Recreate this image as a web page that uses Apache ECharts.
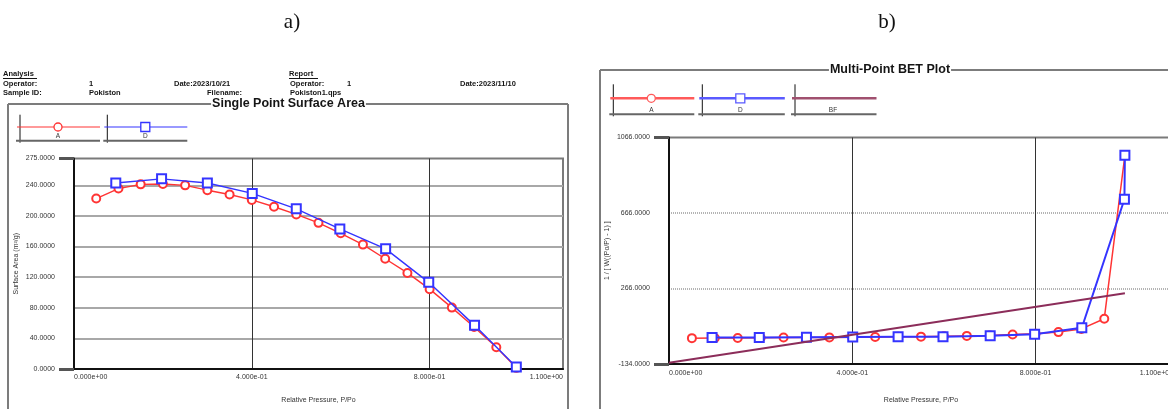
<!DOCTYPE html>
<html>
<head>
<meta charset="utf-8">
<script src="https://cdn.jsdelivr.net/npm/echarts/dist/echarts.min.js"></script>
<style>
  html, body { margin: 0; padding: 0; background: #fff; overflow: hidden; }
  #wrap { position: relative; width: 1168px; height: 409px; overflow: hidden; }
  #chart { position: absolute; left: 0; top: 0; width: 1190px; height: 409px; filter: blur(0.7px); }
  .tag { position: absolute; top: 9px; font: 21px "Liberation Serif", serif; color: #111; transform: translateX(-50%); }
</style>
</head>
<body>
<div id="wrap">
  <div id="chart"></div>
  <div class="tag" style="left:292px">a)</div>
  <div class="tag" style="left:887px">b)</div>
</div>
<script>
// Relative pressure P/Po of the sample points
const pressureA = [0.05, 0.10, 0.15, 0.20, 0.25, 0.30, 0.35, 0.40, 0.45, 0.50,
                   0.55, 0.60, 0.65, 0.70, 0.75, 0.80, 0.85, 0.90, 0.95, 0.995];
const pressureD = [0.094, 0.197, 0.300, 0.401, 0.500, 0.598, 0.701, 0.798, 0.901, 0.995];
const pressureDBet = [0.094, 0.197, 0.300, 0.401, 0.500, 0.598, 0.701, 0.798, 0.901, 0.994, 0.995];

// Single point surface area (m²/g)
const surfaceA = [222.7, 235.7, 241.2, 241.7, 239.9, 233.6, 228.0, 220.9, 212.0, 202.0,
                  190.9, 177.3, 162.5, 144.0, 125.5, 104.3, 80.2, 54.9, 28.3, 1.5];
const surfaceD = [243.0, 248.4, 243.0, 229.4, 209.2, 183.0, 157.0, 113.2, 57.0, 2.5];

// Multi-point BET transform 1/[W((Po/P)-1)]
const betA = [3, 4, 4, 5, 6, 6, 7, 8, 9, 10, 11, 13, 15, 17, 22, 26, 35, 52, 106, 972];
const betD = [6, 7, 8, 9, 10, 11, 16, 24, 58, 739, 972];

// Best-fit line end points
const bfPressure = [0, 0.995];
const bfValue = [-127, 241];

// Axis ranges and tick steps
const xRange = { min: 0, max: 1.1, step: 0.4 };
const surfaceRange = { min: 0, max: 275, step: 40 };
const betRange = { min: -134, max: 1066, step: 400 };

const RED = '#ff3434';
const BLUE = '#3434ff';
const BF = '#8c2d5a';
const FONT = '"Liberation Sans", Arial, sans-serif';

const zip = (xs, ys) => xs.map((x, i) => [x, ys[i]]);

function sci(v) {
  const [m, e] = Number(v).toExponential(3).split('e');
  const n = parseInt(e, 10);
  return m + 'e' + (n < 0 ? '-' : '+') + String(Math.abs(n)).padStart(2, '0');
}

function xAxisFor(gi, nameGap, margin) {
  return {
    gridIndex: gi, type: 'value', min: xRange.min, max: xRange.max, interval: xRange.step,
    name: 'Relative Pressure, P/Po', nameLocation: 'middle', nameGap: nameGap,
    nameTextStyle: { fontSize: 7, color: '#333', fontFamily: FONT },
    axisLine: { onZero: false, lineStyle: { color: '#111', width: 2 } },
    axisTick: { show: false },
    axisLabel: { formatter: sci, fontSize: 7, color: '#333', fontFamily: FONT, margin: margin,
                 showMinLabel: true, showMaxLabel: true, alignMinLabel: 'left', alignMaxLabel: 'right' },
    splitLine: { show: true, showMinLine: false, showMaxLine: false, lineStyle: { color: '#333', width: 1 } }
  };
}

function yAxisFor(gi, range, name, nameGap, dashed) {
  return {
    gridIndex: gi, type: 'value', position: 'left', min: range.min, max: range.max, interval: range.step,
    name: name, nameLocation: 'middle', nameGap: nameGap,
    nameTextStyle: { fontSize: 7, color: '#333', fontFamily: FONT },
    axisLine: { onZero: false, lineStyle: { color: '#111', width: 2 } },
    axisTick: { show: false },
    axisLabel: { formatter: v => Number(v).toFixed(4), fontSize: 7, color: '#333', fontFamily: FONT, margin: 19,
                 showMinLabel: true, showMaxLabel: true },
    splitLine: { show: true, showMinLine: false, showMaxLine: false,
                 lineStyle: { color: dashed ? '#b4b4b4' : '#a8a8a8', width: 2, type: dashed ? [1, 1] : 'solid' } }
  };
}

// Companion axis that only draws the outward stubs at the bottom and top edges
function edgeTicks(gi, range) {
  return {
    gridIndex: gi, type: 'value', position: 'left', min: range.min, max: range.max,
    interval: range.max - range.min,
    axisLine: { show: false }, axisLabel: { show: false }, splitLine: { show: false },
    axisTick: { show: true, length: 15, lineStyle: { color: '#555', width: 3 } }
  };
}

// ---- decorations: frames, headings, legend boxes ----
const G = [];
const ln = (x1, y1, x2, y2, stroke, lw) => G.push({ type: 'line', silent: true, z: 20,
  shape: { x1, y1, x2, y2 }, style: { stroke, lineWidth: lw } });
const tx = (text, x, y, font, extra) => G.push({ type: 'text', silent: true, z: 30,
  style: Object.assign({ text, x, y, font, fill: '#151515', align: 'left', verticalAlign: 'middle' }, extra || {}) });

// panel frames
ln(8, 104, 568, 104, '#7c7c7c', 2);
ln(8, 104, 8, 412, '#7c7c7c', 2);
ln(568, 104, 568, 412, '#7c7c7c', 2);
ln(600, 70, 1190, 70, '#7c7c7c', 2);
ln(600, 70, 600, 412, '#7c7c7c', 2);

// panel titles
tx('Single Point Surface Area', 288.5, 103.5, 'bold 12.5px ' + FONT,
   { align: 'center', backgroundColor: '#fff', padding: [0, 1] });
tx('Multi-Point BET Plot', 890, 69.5, 'bold 12.5px ' + FONT,
   { align: 'center', backgroundColor: '#fff', padding: [0, 1] });

// report heading
const HF = 'bold 7.5px ' + FONT;
tx('Analysis', 3, 74.3, HF); ln(3, 78.5, 37, 78.5, '#151515', 1);
tx('Operator:', 3, 83.7, HF);
tx('1', 89, 83.7, HF);
tx('Date:2023/10/21', 174, 83.7, HF);
tx('Sample ID:', 3, 92.7, HF);
tx('Pokiston', 89, 92.7, HF);
tx('Filename:', 242, 92.7, HF, { align: 'right' });
tx('Report', 289, 74.3, HF); ln(289, 78.5, 318, 78.5, '#151515', 1);
tx('Operator:', 290, 83.7, HF);
tx('1', 347, 83.7, HF);
tx('Pokiston1.qps', 290, 92.7, HF);
tx('Date:2023/11/10', 460, 83.7, HF);

// legend boxes
function legendItem(x, yTop, yLine, yBottom, w, label, color, marker, lw) {
  ln(x, yTop, x, yBottom + 2, '#111', 1);
  ln(x - 4, yBottom, x + w, yBottom, '#666', 2);
  ln(x - 3, yLine, x + w, yLine, color, lw);
  const mx = x + 38;
  if (marker === 'circle') {
    G.push({ type: 'circle', silent: true, z: 25, shape: { cx: mx, cy: yLine, r: 4 },
             style: { fill: '#fff', stroke: color, lineWidth: 1.3 } });
  } else if (marker === 'rect') {
    G.push({ type: 'rect', silent: true, z: 25, shape: { x: mx - 4.5, y: yLine - 4.5, width: 9, height: 9 },
             style: { fill: '#fff', stroke: color, lineWidth: 1.3 } });
  }
  tx(label, mx, yBottom - 4, '6.5px ' + FONT, { align: 'center', fill: '#333' });
}
legendItem(20, 114.7, 127, 140.7, 80, 'A', RED, 'circle', 1.2);
legendItem(107.3, 114.7, 127, 140.7, 80, 'D', BLUE, 'rect', 1.2);
legendItem(613.3, 84.3, 98.3, 114.3, 81, 'A', '#ff5a5a', 'circle', 2.5);
legendItem(702.3, 84.3, 98.3, 114.3, 82.5, 'D', '#5a5aff', 'rect', 2.5);
legendItem(795, 84.3, 98.3, 114.3, 81.5, 'BF', '#a0506f', null, 2.5);

const chart = echarts.init(document.getElementById('chart'), null, { renderer: 'canvas' });
chart.setOption({
  animation: false,
  backgroundColor: '#fff',
  grid: [
    { left: 74, top: 158.5, width: 489, height: 217, show: true, borderColor: '#7a7a7a', borderWidth: 2 },
    { left: 669, top: 137.5, width: 504, height: 229.5, show: true, borderColor: '#7a7a7a', borderWidth: 2 }
  ],
  xAxis: [xAxisFor(0, 28, 5), xAxisFor(1, 33, 6)],
  yAxis: [
    yAxisFor(0, surfaceRange, 'Surface Area (m²/g)', 54, false),
    edgeTicks(0, surfaceRange),
    yAxisFor(1, betRange, '1 / [ W((Po/P) - 1) ]', 58, true),
    edgeTicks(1, betRange)
  ],
  graphic: G,
  series: [
    { name: 'A', type: 'line', xAxisIndex: 0, yAxisIndex: 0, data: zip(pressureA, surfaceA),
      symbol: 'emptyCircle', symbolSize: 8, lineStyle: { color: RED, width: 1.4 },
      itemStyle: { color: RED, borderColor: RED, borderWidth: 1.3 }, z: 3 },
    { name: 'D', type: 'line', xAxisIndex: 0, yAxisIndex: 0, data: zip(pressureD, surfaceD),
      symbol: 'emptyRect', symbolSize: 9, lineStyle: { color: BLUE, width: 1.4 },
      itemStyle: { color: BLUE, borderColor: BLUE, borderWidth: 1.4 }, z: 4 },
    { name: 'A', type: 'line', xAxisIndex: 1, yAxisIndex: 2, data: zip(pressureA, betA),
      symbol: 'emptyCircle', symbolSize: 8, lineStyle: { color: RED, width: 1.5 },
      itemStyle: { color: RED, borderColor: RED, borderWidth: 1.3 }, z: 3 },
    { name: 'D', type: 'line', xAxisIndex: 1, yAxisIndex: 2, data: zip(pressureDBet, betD),
      symbol: 'emptyRect', symbolSize: 9, lineStyle: { color: BLUE, width: 2 },
      itemStyle: { color: BLUE, borderColor: BLUE, borderWidth: 1.6 }, z: 4 },
    { name: 'BF', type: 'line', xAxisIndex: 1, yAxisIndex: 2, data: zip(bfPressure, bfValue),
      symbol: 'none', lineStyle: { color: BF, width: 2 }, z: 5 }
  ]
});
</script>
</body>
</html>
